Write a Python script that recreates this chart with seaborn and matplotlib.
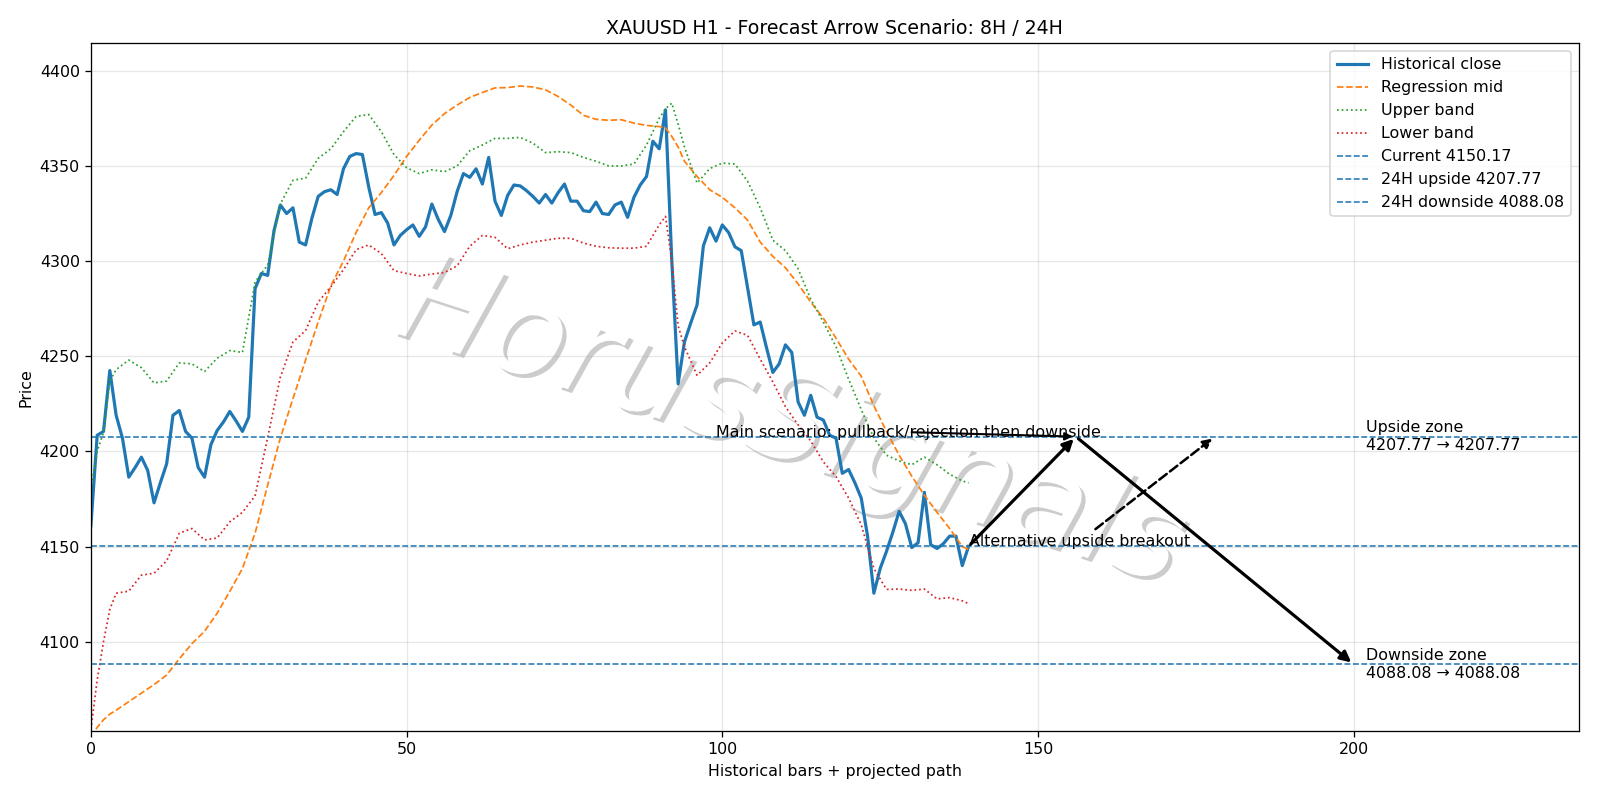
import matplotlib
matplotlib.use("Agg")
import matplotlib.pyplot as plt
import matplotlib.patheffects as pe
import seaborn as sns

# Historical close, one value per H1 bar (0..139)
close = [
    4161, 4208.5, 4210.5, 4242.5, 4219, 4207, 4186.5, 4191.5, 4197, 4190,
    4173, 4183.5, 4193.5, 4219, 4221.5, 4210.5, 4207, 4191.5, 4186.5, 4203.5,
    4211, 4215.5, 4221, 4216, 4210.5, 4218, 4285.5, 4293.5, 4292.5, 4316,
    4329.5, 4325, 4328, 4310, 4308.5, 4322.5, 4334, 4336.5, 4337.5, 4335,
    4348.5, 4355, 4356.5, 4356, 4339, 4324.5, 4325.5, 4320, 4308.5, 4313.5,
    4316.5, 4319, 4313, 4318, 4330, 4322, 4315.5, 4324, 4336.5, 4346,
    4344, 4348.5, 4340.5, 4354.5, 4331.5, 4324, 4334.5, 4340, 4339.5, 4337,
    4334, 4330.5, 4335, 4330.5, 4336, 4340.5, 4331.5, 4331.5, 4326.5, 4326,
    4331, 4325, 4324.5, 4329.5, 4331, 4323, 4333.5, 4340, 4344.5, 4363,
    4359, 4379.5, 4300, 4235.5, 4257.5, 4267.5, 4277, 4308, 4317.5, 4310.5,
    4319, 4315, 4307.5, 4305.5, 4286, 4266.5, 4268, 4254.5, 4241.5, 4246,
    4256, 4252, 4226, 4219, 4229.5, 4218, 4216.5, 4208.5, 4207, 4188.5,
    4190.5, 4183.5, 4175.5, 4155.5, 4125.5, 4138.5, 4147.5, 4157.5, 4168.5, 4162,
    4149.5, 4152, 4178.5, 4151, 4149, 4151.5, 4155.5, 4155.5, 4140, 4150.17,
]
bars = list(range(len(close)))

# Regression channel, read at these bars
band_x = [0, 1, 2, 3, 4] + list(range(6, 91, 2)) + [91, 92, 93, 94] + list(range(96, 139, 2)) + [139]
mid = [
    4050, 4055, 4059, 4062, 4064,
    4068.5, 4073, 4077.5, 4082.5, 4091, 4099, 4105.5, 4115, 4126.5, 4138.5,
    4157, 4182.3, 4207, 4227.7, 4248, 4268, 4287, 4300, 4315, 4328,
    4336, 4345, 4355, 4363.5, 4371.5, 4377.5, 4382, 4386, 4388.6, 4391,
    4391.2, 4392, 4391.5, 4390, 4386.5, 4382, 4376.6, 4374.5, 4374, 4374.3,
    4372.5, 4371.3, 4370.7,
    4370, 4365.5, 4360, 4352.5,
    4344.5, 4337.5, 4333.5, 4328, 4321.5, 4310, 4302.5, 4296.5, 4288, 4278.5,
    4270, 4259.5, 4248.5, 4239.5, 4224, 4210.5, 4198, 4187, 4177, 4168,
    4159.5, 4150,
    4148.5,
]
upper = [
    4180, 4200, 4210, 4237, 4243,
    4248, 4244, 4236, 4237, 4246.5, 4246, 4242, 4249, 4253, 4252,
    4289, 4298, 4330, 4342.5, 4343.6, 4354, 4359, 4368, 4376, 4377,
    4368, 4356, 4349, 4346, 4348, 4347, 4350, 4358, 4361, 4364.5,
    4364.5, 4365, 4362, 4357, 4357.5, 4357, 4354.5, 4352.5, 4350, 4350,
    4351, 4361, 4375,
    4380, 4383, 4372, 4360,
    4341, 4348.6, 4351.5, 4351, 4342, 4328, 4311, 4305.5, 4296, 4280,
    4268, 4255, 4238, 4222, 4207, 4198, 4195, 4193, 4197, 4193,
    4188, 4184.5,
    4183.5,
]
lower = [
    4054, 4080, 4100, 4117, 4125.5,
    4126.6, 4135, 4136, 4142.5, 4157, 4159.5, 4153.5, 4154.5, 4163, 4168,
    4176.6, 4207.3, 4239, 4257.5, 4263.5, 4278.5, 4286.5, 4295.5, 4306, 4308.5,
    4304, 4295, 4293.5, 4292.2, 4293.2, 4294, 4297.5, 4307.8, 4313.5, 4312.5,
    4306.5, 4308.5, 4310, 4311, 4312, 4312, 4309.5, 4307.8, 4307, 4306.8,
    4306.8, 4307.8, 4319,
    4323.5, 4300, 4266, 4255,
    4240, 4246.5, 4257, 4263.3, 4261, 4248.5, 4236.5, 4223.5, 4214, 4205.5,
    4194.5, 4186.8, 4175.5, 4161.5, 4138.5, 4127.5, 4127.7, 4127, 4127.7, 4122.5,
    4123.2, 4121.5,
    4120,
]

current = 4150.17
up_24h = 4207.77
down_24h = 4088.08
last_bar = 139
peak_bar = 156
alt_bar = 178
down_bar = 200
zone_x = 202

fig, ax = plt.subplots(figsize=(14, 7), dpi=1600 / 14)

sns.lineplot(x=bars, y=close, ax=ax, color="#1f77b4", linewidth=2, label="Historical close")
sns.lineplot(x=band_x, y=mid, ax=ax, color="#ff7f0e", linestyle="--", linewidth=1.1, label="Regression mid")
sns.lineplot(x=band_x, y=upper, ax=ax, color="#2ca02c", linestyle=":", linewidth=1.1, label="Upper band")
sns.lineplot(x=band_x, y=lower, ax=ax, color="#d62728", linestyle=":", linewidth=1.1, label="Lower band")

ax.axhline(current, color="#1f77b4", linestyle="--", linewidth=1, label=f"Current {current:.2f}")
ax.axhline(up_24h, color="#1f77b4", linestyle="--", linewidth=1, label=f"24H upside {up_24h:.2f}")
ax.axhline(down_24h, color="#1f77b4", linestyle="--", linewidth=1, label=f"24H downside {down_24h:.2f}")

# main path: up to rejection, then down
ax.annotate("", xy=(peak_bar, up_24h), xytext=(last_bar, current),
            arrowprops=dict(arrowstyle="-|>", lw=2, color="black", mutation_scale=14))
ax.annotate("", xy=(down_bar, down_24h), xytext=(peak_bar, up_24h),
            arrowprops=dict(arrowstyle="-|>", lw=2, color="black", mutation_scale=14))
ax.annotate("Main scenario: pullback/rejection then downside",
            xy=(peak_bar, up_24h), xytext=(last_bar - 40, up_24h), fontsize=10,
            arrowprops=dict(arrowstyle="-|>", lw=1.3, color="black"))
ax.annotate("Alternative upside breakout",
            xy=(alt_bar, up_24h), xytext=(last_bar, current), fontsize=10,
            arrowprops=dict(arrowstyle="-|>", lw=1.6, color="black", linestyle="--", mutation_scale=12))

ax.text(zone_x, up_24h, f"Upside zone\n{up_24h:.2f} \u2192 {up_24h:.2f}", va="center", fontsize=10)
ax.text(zone_x, down_24h, f"Downside zone\n{down_24h:.2f} \u2192 {down_24h:.2f}", va="center", fontsize=10)

# watermark, under the lines
ax.text(0.47, 0.445, "HorusSignals", transform=ax.transAxes, fontsize=79, color="white",
        rotation=-18, ha="center", va="center", style="italic", zorder=1,
        path_effects=[pe.withSimplePatchShadow(offset=(2.5, -2.5), shadow_rgbFace="black", alpha=0.2)])

ax.set_xlim(0, 235.6)
ax.set_ylim(4053, 4414.5)
ax.grid(True, alpha=0.3)
ax.set_title("XAUUSD H1 - Forecast Arrow Scenario: 8H / 24H")
ax.set_xlabel("Historical bars + projected path")
ax.set_ylabel("Price")
ax.legend(loc="upper right")

fig.subplots_adjust(left=0.0568, right=0.9866, top=0.946, bottom=0.086)
plt.savefig("out.png")
